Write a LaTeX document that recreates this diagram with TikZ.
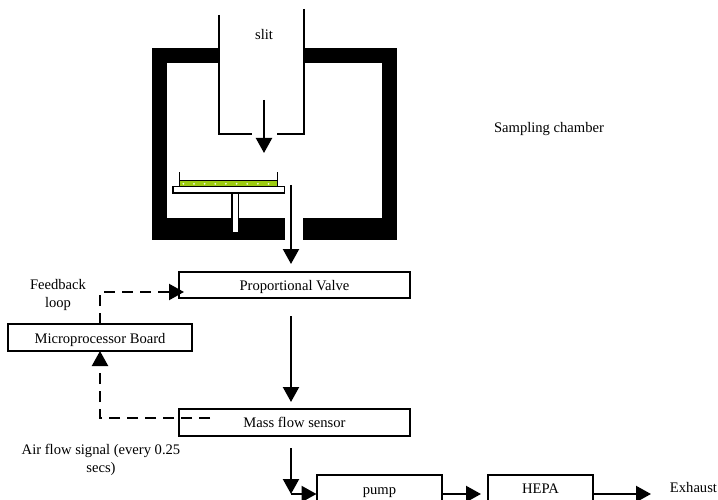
\documentclass[tikz,border=0pt]{standalone}
\usepackage{fontspec}
\setmainfont{Liberation Serif}
\usetikzlibrary{arrows.meta}
\definecolor{culture}{HTML}{9CCB10}
\tikzset{
  x=1pt,y=-1pt,
  every node/.style={font=\fontsize{14.6}{17.5}\selectfont,inner sep=0pt,outer sep=0pt,align=center},
  boxnode/.style={draw=black,line width=1.8pt,fill=white,anchor=center,text height=10pt,text depth=0pt},
  flow/.style={draw=black,line width=2.2pt,-{Triangle[length=15pt,width=16pt]}},
  signal/.style={draw=black,line width=2.2pt,dash pattern=on 11pt off 7pt,-{Triangle[length=15pt,width=16pt]}},
  thinline/.style={draw=black,line width=1.6pt},
  wall/.style={fill=black,draw=none}
}
\begin{document}
\begin{tikzpicture}
\useasboundingbox (0,0) rectangle (718,500);
\clip (0,0) rectangle (718,500);
% chamber walls
\fill[wall] (152,48) rectangle (397,63);
\fill[wall] (152,48) rectangle (167,240);
\fill[wall] (382,48) rectangle (397,240);
\fill[wall] (152,218) rectangle (285,240);
\fill[wall] (303,218) rectangle (397,240);
% slit interior
\fill[white] (219,40) rectangle (304,70);
\draw[thinline] (219,15) -- (219,134) -- (252,134);
\draw[thinline] (304,9) -- (304,134) -- (277,134);
\node[anchor=base] at (264,40) {slit};
\coordinate (slitA) at (264,100);
\coordinate (slitB) at (264,153);
\draw[flow] (slitA) -- (slitB);
% dish
\fill[culture] (179,180) rectangle (278,186.5);
\foreach \i in {0,...,8} \fill[white!85!culture] ({183.3+10.65*\i},183.8) circle (1pt);
\draw[line width=1.1pt] (179.3,172.5) -- (179.3,186) (277.7,186) -- (277.7,172.5);
\draw[line width=1.5pt] (179,180.3) -- (278,180.3);
\draw[line width=1.5pt,fill=white] (173,186.6) rectangle (284.6,193);
\draw[line width=1.5pt] (231.8,193) -- (231.8,218) (238.4,193) -- (238.4,218);
\fill[white] (232.6,193.8) rectangle (237.6,231.5);
% boxes
\node[boxnode,minimum width=231pt,minimum height=26pt] (valve) at (294.5,285) {Proportional Valve};
\node[boxnode,minimum width=184pt,minimum height=27pt,text height=11pt] (micro) at (100,337.5) {Microprocessor Board};
\node[boxnode,minimum width=231pt,minimum height=27pt] (mass) at (294.5,422.5) {Mass flow sensor};
\node[boxnode,minimum width=125pt,minimum height=30pt,text height=8pt] (pump) at (379.5,490) {pump};
\node[boxnode,minimum width=105pt,minimum height=30pt,text height=7pt] (hepa) at (540.5,490) {HEPA};
% labels
\node at (549,129.5) {Sampling chamber};
\node at (58,295) {Feedback\\loop};
\node at (101,460) {Air flow signal (every 0.25\\secs)};
\node (exh) at (693.5,488) {Exhaust};
% flow connectors
\coordinate (inA) at (291,185);
\coordinate (inB) at (291,264);
\draw[flow] (inA) -- (inB);
\coordinate (vA) at (291,316);
\coordinate (vB) at (291,402);
\draw[flow] (vA) -- (vB);
\coordinate (mA) at (291,448);
\coordinate (mB) at (291,494);
\draw[flow] (mA) -- (mB);
\coordinate (pB) at (316.5,494);
\draw[flow] (mB) -- (pB);
\draw[flow] (442.5,494) -- (481,494);
\draw[flow] (593,494) -- (651,494);
% signal connectors
\coordinate (fbBend) at (100,292);
\coordinate (fbEnd) at (184,292);
\draw[signal] (micro.north) -- (fbBend) -- (fbEnd);
\coordinate (sigStart) at (210,418);
\coordinate (sigBend) at (100,418);
\draw[signal] (sigStart) -- (sigBend) -- (micro.south);
\end{tikzpicture}
\end{document}
